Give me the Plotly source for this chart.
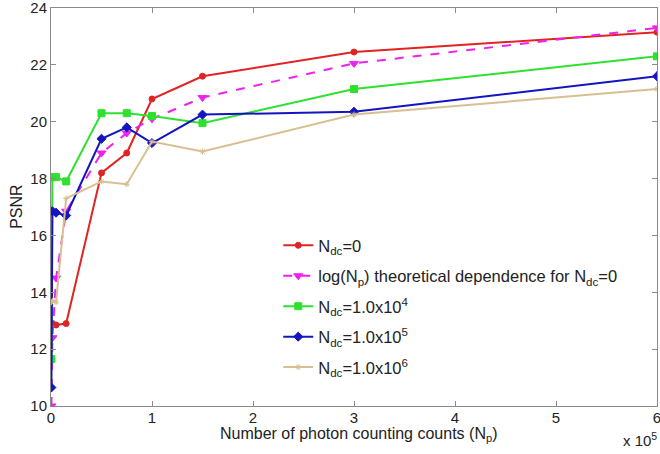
import plotly.graph_objects as go

x_np = [0.004, 0.014, 0.05, 0.15, 0.5, 0.75, 1.0, 1.5, 3.0, 6.0]  # x 10^5

psnr_ndc0 = [12.9, 12.9, 12.85, 12.9, 18.2, 18.9, 20.8, 21.6, 22.45, 23.15]
psnr_log = [10.0, 12.4, 14.5, 16.85, 18.9, 19.6, 20.1, 20.85, 22.05, 23.3]
psnr_1e4 = [11.65, 18.05, 18.05, 17.9, 20.3, 20.3, 20.2, 19.95, 21.15, 22.3]
psnr_1e5 = [10.65, 16.85, 16.8, 16.7, 19.4, 19.8, 19.25, 20.25, 20.35, 21.6]
psnr_1e6 = [13.65, 13.7, 13.65, 17.3, 17.9, 17.8, 19.3, 18.95, 20.25, 21.15]

names = [
    "N<sub>dc</sub>=0",
    "log(N<sub>p</sub>) theoretical dependence for N<sub>dc</sub>=0",
    "N<sub>dc</sub>=1.0x10<sup>4</sup>",
    "N<sub>dc</sub>=1.0x10<sup>5</sup>",
    "N<sub>dc</sub>=1.0x10<sup>6</sup>",
]

fig = go.Figure()
styles = [
    (psnr_ndc0, "#e02424", "circle", "solid", 6),
    (psnr_log, "#ee22ee", "triangle-down", "dash", 8),
    (psnr_1e4, "#2fe02f", "square", "solid", 7),
    (psnr_1e5, "#1414c0", "diamond", "solid", 7),
    (psnr_1e6, "#d8bf93", "asterisk-open", "solid", 5),
]
for i, ((ys, col, sym, dash, ms), nm) in enumerate(zip(styles, names)):
    fig.add_trace(go.Scatter(
        x=x_np, y=ys, name=nm, mode="lines+markers", legendgroup=f"g{i}",
        line=dict(color=col, width=2, dash=dash),
        marker=dict(color=col, symbol=sym, size=ms, line=dict(color=col, width=1)),
    ))

FONT = "Liberation Sans, Arial"
axis_common = dict(
    showgrid=False, zeroline=False, showline=True, linecolor="#8a8a8a", linewidth=1,
    mirror="ticks", ticks="inside", ticklen=5, tickcolor="#8a8a8a",
    tickfont=dict(family=FONT, size=15, color="#222"),
    automargin=False, ticklabeloverflow="allow",
)

fig.update_layout(
    width=660, height=454,
    margin=dict(l=51, r=3, t=8, b=48, autoexpand=False),
    paper_bgcolor="white", plot_bgcolor="white",
    font=dict(family=FONT, size=16, color="#222"),
    xaxis=dict(range=[0, 6], tickvals=[0, 1, 2, 3, 4, 5, 6], ticklabelstandoff=-2,
               **axis_common),
    yaxis=dict(range=[10, 24], tickvals=[10, 12, 14, 16, 18, 20, 22, 24], **axis_common),
    legend=dict(x=0.375, y=0.447, xanchor="left", yanchor="top",
                bgcolor="rgba(255,255,255,0)", font=dict(size=16.5),
                tracegroupgap=6),
    showlegend=True,
)

fig.add_annotation(text="Number of photon counting counts (N<sub>p</sub>)",
                   xref="paper", yref="paper", x=0.508, y=-0.071,
                   xanchor="center", yanchor="middle", showarrow=False,
                   font=dict(size=16, color="#222"))
fig.add_annotation(text="PSNR", xref="paper", yref="paper", x=-0.058, y=0.5,
                   xanchor="center", yanchor="middle", showarrow=False, textangle=-90,
                   font=dict(size=16, color="#222"))
fig.add_annotation(text="x 10<sup>5</sup>", xref="paper", yref="paper", x=1.004, y=-0.084,
                   xanchor="right", yanchor="middle", showarrow=False,
                   font=dict(size=15, color="#222"))

fig.write_html("out.html", config={"displayModeBar": False},
               post_script="document.body.style.margin='0';document.body.style.overflow='hidden';")
